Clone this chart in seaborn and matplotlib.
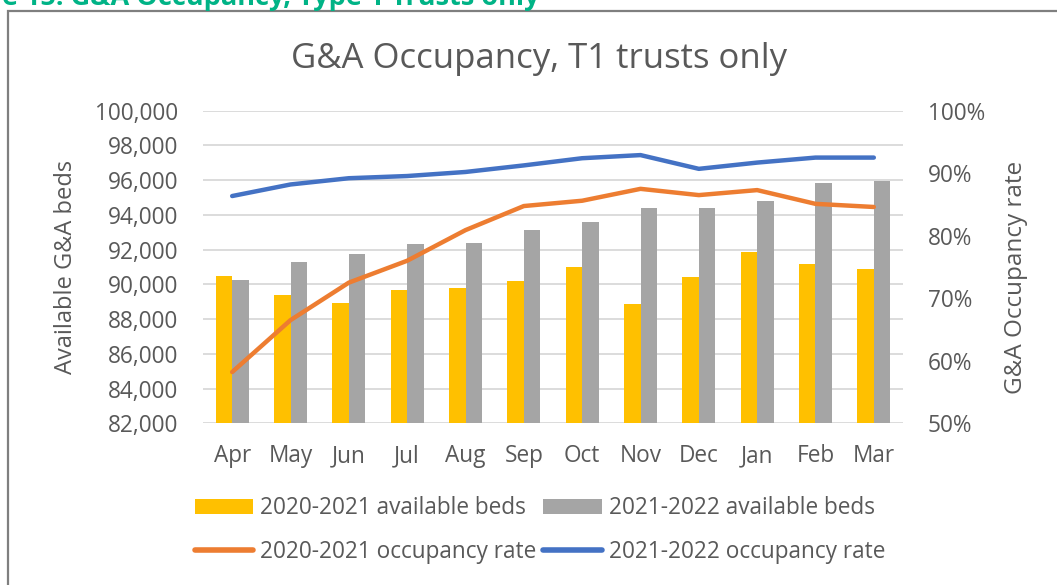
import numpy as np
import pandas as pd
import matplotlib
matplotlib.use("Agg")
import matplotlib.pyplot as plt
from matplotlib.patches import Patch, Rectangle
from matplotlib.lines import Line2D
import matplotlib.ticker as mticker
import seaborn as sns

months = ["Apr", "May", "Jun", "Jul", "Aug", "Sep", "Oct", "Nov", "Dec", "Jan", "Feb", "Mar"]
beds_2021 = [90480, 89370, 88910, 89680, 89810, 90200, 90980, 88850, 90410, 91880, 91150, 90900]
beds_2122 = [90250, 91290, 91730, 92310, 92380, 93110, 93570, 94380, 94380, 94820, 95860, 95930]
occ_2021 = [58.2, 66.5, 72.5, 76.0, 80.9, 84.75, 85.6, 87.5, 86.5, 87.3, 85.1, 84.6]
occ_2122 = [86.35, 88.2, 89.2, 89.55, 90.2, 91.25, 92.4, 92.9, 90.7, 91.7, 92.5, 92.5]
series_bars = ["2020-2021 available beds", "2021-2022 available beds"]
series_lines = ["2020-2021 occupancy rate", "2021-2022 occupancy rate"]

sns.set_theme(style="white")
plt.rcParams["font.family"] = ["Open Sans", "DejaVu Sans"]

TXT = "#595959"
YEL, GRY, ORA, BLU = "#FFC000", "#A5A5A5", "#ED7D31", "#4472C4"
FS = 16.3

bars_df = pd.DataFrame({
    "month": months * 2,
    "beds": beds_2021 + beds_2122,
    "series": [series_bars[0]] * 12 + [series_bars[1]] * 12,
})
lines_df = pd.DataFrame({
    "pos": list(range(len(months))) * 2,
    "occ": occ_2021 + occ_2122,
    "series": [series_lines[0]] * 12 + [series_lines[1]] * 12,
})

W, H = 1057, 585
fig = plt.figure(figsize=(W / 100, H / 100), dpi=100)
L, R, T, B = 203, 903, 110.7, 423.3
ax = fig.add_axes([L / W, 1 - B / H, (R - L) / W, (B - T) / H])

sns.barplot(data=bars_df, x="month", y="beds", hue="series",
            palette=[YEL, GRY], width=0.57, gap=0, ax=ax, legend=False,
            saturation=1, edgecolor="none")
ax.set_ylim(82000, 100000)
ax.set_yticks(np.arange(82000, 100001, 2000))
ax.yaxis.set_major_formatter(mticker.FuncFormatter(lambda v, p: f"{int(v):,}"))
ax.set_xlim(-0.5, len(months) - 0.5)
ax.grid(axis="y", color="#D9D9D9", linewidth=1.3)
ax.grid(axis="x", visible=False)
ax.set_axisbelow(True)
for s in ax.spines.values():
    s.set_visible(False)
ax.tick_params(axis="y", length=0, pad=18, labelsize=FS, labelcolor=TXT)
ax.tick_params(axis="x", length=0, pad=15, labelsize=FS, labelcolor=TXT)
ax.set_xlabel("")
ax.set_ylabel("Available G&A beds", fontsize=17, color=TXT)
ax.yaxis.set_label_coords((78 - L) / (R - L), 0.5)

ax2 = ax.twinx()
sns.lineplot(data=lines_df, x="pos", y="occ", hue="series",
             palette=[ORA, BLU], linewidth=3.2, ax=ax2, legend=False,
             solid_capstyle="round")
ax2.set_ylim(50, 100)
ax2.set_yticks(np.arange(50, 101, 10))
ax2.yaxis.set_major_formatter(mticker.FuncFormatter(lambda v, p: f"{int(v)}%"))
ax2.set_xlim(-0.5, len(months) - 0.5)
for s in ax2.spines.values():
    s.set_visible(False)
ax2.grid(False)
ax2.tick_params(axis="y", length=0, pad=18, labelsize=FS, labelcolor=TXT)
ax2.set_xlabel("")
ax2.set_ylabel("G&A Occupancy rate", fontsize=17.5, color=TXT)
ax2.yaxis.set_label_coords((1004 - L) / (R - L), (B - 277) / (B - T))

fig.text(539 / W, 1 - 59 / H, "G&A Occupancy, T1 trusts only", ha="center", va="center",
         fontsize=25, color=TXT)

handles = [
    Patch(facecolor=YEL, edgecolor="none", label=series_bars[0]),
    Line2D([0], [0], color=ORA, linewidth=4, solid_capstyle="round", label=series_lines[0]),
    Patch(facecolor=GRY, edgecolor="none", label=series_bars[1]),
    Line2D([0], [0], color=BLU, linewidth=4, solid_capstyle="round", label=series_lines[1]),
]
leg = fig.legend(handles=handles, ncol=2, loc="center", bbox_to_anchor=(540 / W, 1 - 530 / H),
                 frameon=False, fontsize=FS, handlelength=2.6, handleheight=0.6,
                 handletextpad=0.3, columnspacing=0.3, labelspacing=0.85, labelcolor=TXT,
                 borderpad=0)

fig.patches.append(Rectangle((8 / W, -0.1), 1.2, 1 - 11 / H + 0.1, transform=fig.transFigure,
                             fill=False, edgecolor="#7F7F7F", linewidth=1.6))
fig.text(540 / W, 1 - 5 / H, "Figure 15: G&A Occupancy, Type 1 Trusts only", ha="right",
         va="baseline", fontsize=19.5, fontweight="bold", color="#00B386")

fig.savefig("out.png", dpi=100)
